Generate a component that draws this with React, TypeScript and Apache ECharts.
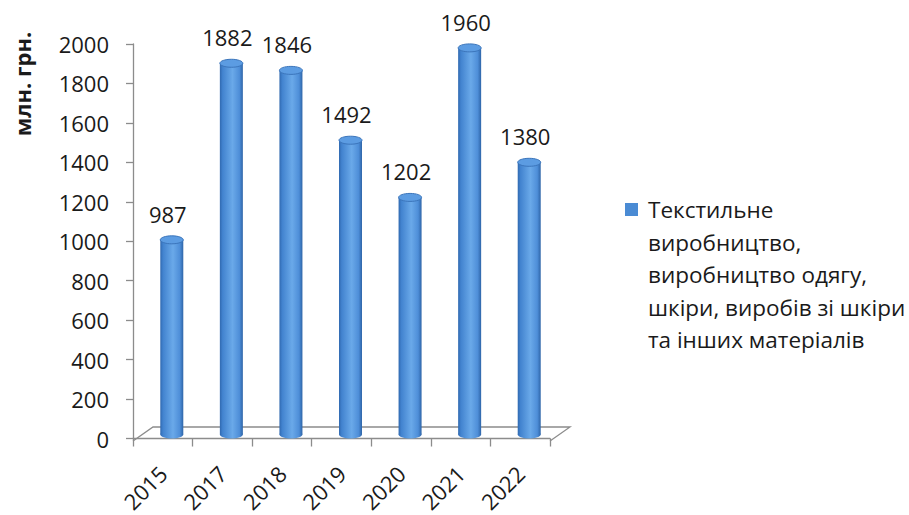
import React, { useEffect, useRef } from "react";
import * as echarts from "echarts";

const categories = ["2015", "2017", "2018", "2019", "2020", "2021", "2022"];
const values = [987, 1882, 1846, 1492, 1202, 1960, 1380];
const seriesName =
  "Текстильне\nвиробництво,\nвиробництво одягу,\nшкіри, виробів зі шкіри\nта інших матеріалів";
const yAxisTitle = "млн. грн.";
const yMin = 0;
const yMax = 2000;
const yStep = 200;

const GRID = { left: 133, top: 44, width: 417, height: 397 };
const DEPTH_X = 20;
const DEPTH_Y = 14;
const FONT = "'Open Sans', 'Noto Sans', sans-serif";
const LEGEND_LINE = 32.5;
const LEGEND_LINES = 5;
const LEGEND_H = LEGEND_LINE * LEGEND_LINES;

export default function App() {
  const ref = useRef<HTMLDivElement>(null);
  useEffect(() => {
    if (!ref.current) return;
    const chart = echarts.init(ref.current, null, { renderer: "svg" });
    const gl = GRID.left;
    const gr = GRID.left + GRID.width;
    const gb = GRID.top + GRID.height;
    const axisColor = "#8c8c8c";
    // icon: square aligned with first text line, tiny invisible anchors stretch bbox to full text height
    const sqTop = LEGEND_H / 2 - 2 * LEGEND_LINE - 6.5;
    const iconPath =
      `path://M0,0L0.01,0L0,0.01Z` +
      `M0,${sqTop}L13,${sqTop}L13,${sqTop + 13}L0,${sqTop + 13}Z` +
      `M0,${LEGEND_H}L0.01,${LEGEND_H}L0,${LEGEND_H - 0.01}Z`;
    chart.setOption({
      animation: false,
      backgroundColor: "#ffffff",
      textStyle: { fontFamily: FONT },
      grid: { left: GRID.left, top: GRID.top, width: GRID.width, height: GRID.height },
      legend: {
        left: 620,
        top: 198 - sqTop,
        itemWidth: 13,
        itemHeight: LEGEND_H,
        data: [{ name: seriesName, icon: iconPath, itemStyle: { color: "#4a8bd4" } }],
        textStyle: {
          fontFamily: FONT,
          fontSize: 22.5,
          color: "#1a1a1a",
          lineHeight: LEGEND_LINE,
          padding: [0, 0, 0, 5],
        },
      },
      xAxis: {
        type: "category",
        data: categories,
        boundaryGap: true,
        axisLine: { show: true, lineStyle: { color: axisColor, width: 1.3 } },
        axisTick: { show: true, length: 8, lineStyle: { color: axisColor, width: 1.3 } },
        axisLabel: {
          rotate: 45,
          fontSize: 22,
          color: "#1a1a1a",
          margin: 31,
          fontFamily: FONT,
        },
        splitLine: { show: false },
      },
      yAxis: {
        type: "value",
        min: yMin,
        max: yMax,
        interval: yStep,
        axisLine: { show: true, lineStyle: { color: axisColor, width: 1.3 } },
        axisTick: { show: true, length: 7, lineStyle: { color: axisColor, width: 1.3 } },
        axisLabel: {
          fontSize: 22,
          color: "#1a1a1a",
          margin: 24,
          fontFamily: FONT,
          formatter: (v: number) => String(v),
        },
        splitLine: { show: false },
      },
      graphic: [
        {
          type: "polyline",
          z: 1,
          shape: {
            points: [
              [gl, gb],
              [gl + DEPTH_X, gb - DEPTH_Y],
              [gr + DEPTH_X, gb - DEPTH_Y],
              [gr, gb],
            ],
          },
          style: { stroke: axisColor, lineWidth: 1.3, fill: null },
        },
        {
          type: "text",
          x: 22,
          y: 84,
          rotation: Math.PI / 2,
          style: {
            text: yAxisTitle,
            fontSize: 22,
            fontWeight: "bold",
            fontFamily: FONT,
            fill: "#1a1a1a",
            align: "center",
            verticalAlign: "middle",
          },
        },
      ],
      series: [
        {
          name: seriesName,
          type: "custom",
          z: 5,
          itemStyle: { color: "#4a8bd4" },
          encode: { x: 0, y: 1 },
          data: values.map((v, i) => [i, v]),
          renderItem: (params: any, api: any) => {
            const idx = api.value(0);
            const val = api.value(1);
            const top = api.coord([idx, val]);
            const base = api.coord([idx, 0]);
            const cx = top[0] + 9;
            const yTop = top[1] - 4;
            const yBot = base[1] - 4;
            const w = 23;
            const ry = 4;
            const grad = new echarts.graphic.LinearGradient(0, 0, 1, 0, [
              { offset: 0, color: "#3069b0" },
              { offset: 0.12, color: "#4283cf" },
              { offset: 0.55, color: "#6aa9e9" },
              { offset: 0.85, color: "#4e8ed8" },
              { offset: 1, color: "#2e65a8" },
            ]);
            return {
              type: "group",
              children: [
                {
                  type: "ellipse",
                  shape: { cx, cy: yBot, rx: w / 2, ry },
                  style: { fill: grad },
                },
                {
                  type: "rect",
                  shape: { x: cx - w / 2, y: yTop, width: w, height: yBot - yTop },
                  style: { fill: grad },
                },
                {
                  type: "ellipse",
                  shape: { cx, cy: yTop, rx: w / 2, ry },
                  style: { fill: "#5c9ce2", stroke: "#3b75bb", lineWidth: 1 },
                },
                {
                  type: "text",
                  x: cx - 4,
                  y: yTop - 26,
                  style: {
                    text: String(val),
                    fontSize: 22,
                    fontFamily: FONT,
                    fill: "#1a1a1a",
                    align: "center",
                    verticalAlign: "middle",
                  },
                },
              ],
            };
          },
        },
      ],
    });
    return () => chart.dispose();
  }, []);
  return (
    <div
      ref={ref}
      style={{ position: "absolute", left: 0, top: 0, width: 909, height: 515 }}
    />
  );
}
